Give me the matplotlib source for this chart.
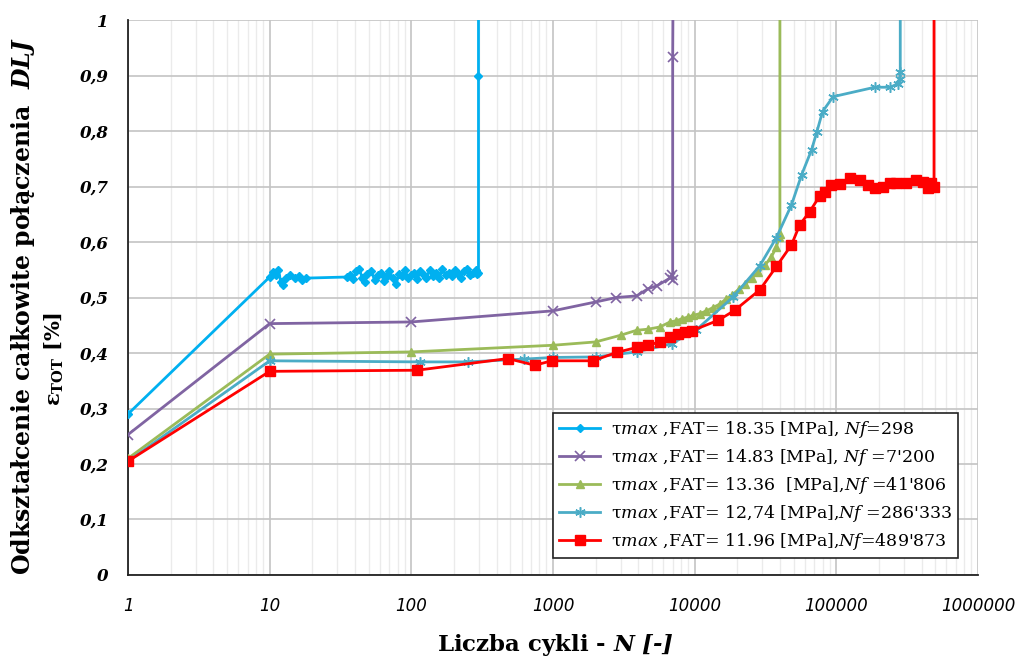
import matplotlib
matplotlib.use('Agg')
import matplotlib.pyplot as plt
import numpy as np
from matplotlib.ticker import FixedLocator, LogLocator, NullFormatter

plt.rcParams['font.family'] = 'DejaVu Serif'
plt.rcParams['mathtext.fontset'] = 'custom'
plt.rcParams['mathtext.it'] = 'DejaVu Serif:italic'
plt.rcParams['mathtext.bf'] = 'DejaVu Serif:italic:bold'
plt.rcParams['mathtext.rm'] = 'DejaVu Serif'

# series data (N cycles, total strain %)
n_1835 = [1, 10, 10.5, 11, 11.5, 12, 12.5, 13, 14, 15,
          16, 17, 18, 35, 37, 39, 41, 43, 45, 47,
          49, 52, 55, 58, 61, 64, 67, 70, 74, 78,
          82, 86, 90, 95, 100, 105, 110, 116, 122, 128,
          135, 142, 150, 158, 166, 175, 184, 193, 203, 213,
          224, 235, 247, 259, 272, 285, 293, 298, 298, 298]
e_1835 = [0.29, 0.537, 0.546, 0.54, 0.55, 0.528, 0.523, 0.535, 0.54, 0.535,
          0.538, 0.532, 0.535, 0.537, 0.54, 0.533, 0.548, 0.552, 0.535, 0.528,
          0.542, 0.548, 0.532, 0.54, 0.545, 0.53, 0.538, 0.547, 0.535, 0.525,
          0.542, 0.538, 0.55, 0.535, 0.54, 0.545, 0.533, 0.548, 0.54, 0.536,
          0.55, 0.538, 0.545, 0.535, 0.552, 0.54, 0.545, 0.538, 0.55, 0.542,
          0.536, 0.548, 0.552, 0.54, 0.545, 0.55, 0.542, 0.545, 0.9, 1.2]

n_1483 = [1, 10, 100, 1000, 2000, 2800, 3900, 4700, 5400, 6700, 6900, 7000, 7000, 7100]
e_1483 = [0.253, 0.453, 0.456, 0.476, 0.492, 0.5, 0.503, 0.516, 0.521, 0.535, 0.541, 0.532, 0.933, 1.2]

n_1336 = [1, 10, 100, 1000, 2000, 3000, 3900, 4700, 5700, 6700, 7400, 8200, 9000, 9800,
          10900, 12100, 13500, 15000, 16600, 18500, 20500, 22800, 25400, 28200, 31300,
          34800, 37800, 39500, 40000, 40000]
e_1336 = [0.21, 0.398, 0.402, 0.414, 0.42, 0.432, 0.441, 0.443, 0.447, 0.456, 0.458, 0.462, 0.465, 0.468,
          0.471, 0.476, 0.482, 0.488, 0.497, 0.505, 0.515, 0.524, 0.536, 0.546, 0.558,
          0.573, 0.591, 0.609, 0.615, 1.2]

n_1274 = [1, 10, 115, 250, 620, 1000, 2000, 3900, 6900, 10300, 18700, 28800, 37800, 48300,
          56900, 66900, 73000, 80000, 95000, 187000, 239000, 273000, 280000, 283000, 283000]
e_1274 = [0.205, 0.386, 0.384, 0.384, 0.389, 0.392, 0.393, 0.402, 0.417, 0.442, 0.501, 0.557, 0.608, 0.667,
          0.721, 0.766, 0.799, 0.835, 0.862, 0.879, 0.879, 0.885, 0.894, 0.907, 1.2]

n_1196 = [1, 10, 110, 480, 745, 980, 1920, 2810, 3890, 4700, 5680, 6690, 7650, 8540, 9510,
          14700, 19200, 28900, 37800, 48300, 55200, 65000, 76400, 83000, 92500, 106000,
          125000, 147000, 168000, 187000, 214000, 239000, 266000, 313000, 368000, 410000,
          445000, 470000, 489873, 489873]
e_1196 = [0.205, 0.367, 0.369, 0.39, 0.378, 0.386, 0.386, 0.401, 0.41, 0.414, 0.42, 0.428, 0.435, 0.437, 0.44,
          0.459, 0.477, 0.514, 0.556, 0.595, 0.631, 0.655, 0.683, 0.691, 0.703, 0.704,
          0.715, 0.712, 0.703, 0.697, 0.7, 0.706, 0.706, 0.707, 0.712, 0.708,
          0.697, 0.706, 0.7, 1.2]

labels = [r"τ$\mathit{max}$ ,FAT= 18.35 [MPa], $\mathit{Nf}$=298",
          r"τ$\mathit{max}$ ,FAT= 14.83 [MPa], $\mathit{Nf}$ =7'200",
          r"τ$\mathit{max}$ ,FAT= 13.36  [MPa],$\mathit{Nf}$ =41'806",
          r"τ$\mathit{max}$ ,FAT= 12,74 [MPa],$\mathit{Nf}$ =286'333",
          r"τ$\mathit{max}$ ,FAT= 11.96 [MPa],$\mathit{Nf}$=489'873"]

x_ticks = [1, 10, 100, 1000, 10000, 100000, 1000000]
y_ticks = [0, 0.1, 0.2, 0.3, 0.4, 0.5, 0.6, 0.7, 0.8, 0.9, 1.0]
y_ticklabels = ['0', '0,1', '0,2', '0,3', '0,4', '0,5', '0,6', '0,7', '0,8', '0,9', '1']

fig = plt.figure(figsize=(10.24, 6.59), dpi=100)
ax = fig.add_axes([0.125, 0.1275, 0.830, 0.842])

ax.plot(n_1835, e_1835, color='#00B0F0', lw=2, marker='D', ms=4.5, label=labels[0], zorder=3)
ax.plot(n_1483, e_1483, color='#8064A2', lw=2, marker='x', ms=7, mew=1.2, label=labels[1], zorder=3)
ax.plot(n_1336, e_1336, color='#9BBB59', lw=2, marker='^', ms=6, label=labels[2], zorder=3)
ax.plot(n_1274, e_1274, color='#4BACC6', lw=2, marker=(6, 2, 0), ms=7.5, mew=1.1, label=labels[3], zorder=3)
ax.plot(n_1196, e_1196, color='#FF0000', lw=2, marker='s', ms=7, label=labels[4], zorder=3)

ax.set_xscale('log')
ax.set_xlim(1, 1000000)
ax.set_ylim(0, 1)

ax.xaxis.set_major_locator(FixedLocator(x_ticks))
ax.set_xticklabels([str(v) for v in x_ticks], fontfamily='DejaVu Sans', fontstyle='italic', fontsize=12)
ax.xaxis.set_minor_locator(LogLocator(base=10, subs=np.arange(2, 10)))
ax.xaxis.set_minor_formatter(NullFormatter())
ax.set_yticks(y_ticks)
ax.set_yticklabels(y_ticklabels, fontstyle='italic', fontweight='bold', fontsize=12)
ax.tick_params(axis='both', which='both', length=0)
ax.tick_params(axis='x', pad=16)
ax.tick_params(axis='y', pad=14)

ax.grid(True, which='major', color='#C4C4C4', lw=1.2)
ax.grid(True, which='minor', axis='x', color='#EBEBEB', lw=1)
ax.set_axisbelow(True)
for s in ['top', 'right']:
    ax.spines[s].set_visible(False)
for s in ['left', 'bottom']:
    ax.spines[s].set_color('#222222')
    ax.spines[s].set_linewidth(1.3)

leg = ax.legend(loc='lower right', bbox_to_anchor=(0.987, 0.015), fontsize=12.5, frameon=True, fancybox=False,
                edgecolor='#222222', framealpha=1, handlelength=2.4, borderpad=0.35, labelspacing=0.4,
                handletextpad=0.6)
leg.get_frame().set_linewidth(1.2)

fig.text(0.022, 0.535, r"Odkształcenie całkowite połączenia  $\mathbf{DLJ}$", rotation=90,
         ha='center', va='center', fontsize=17, fontweight='bold')
fig.text(0.053, 0.455, "ε$_\\mathregular{TOT}$ [%]", rotation=90,
         ha='center', va='center', fontsize=15, fontweight='bold')
fig.text(0.542, 0.022, "Liczba cykli - $\\mathbf{N\\ [\u2010]}$", ha='center', va='center',
         fontsize=16.5, fontweight='bold')

fig.savefig('out.png', dpi=100)
